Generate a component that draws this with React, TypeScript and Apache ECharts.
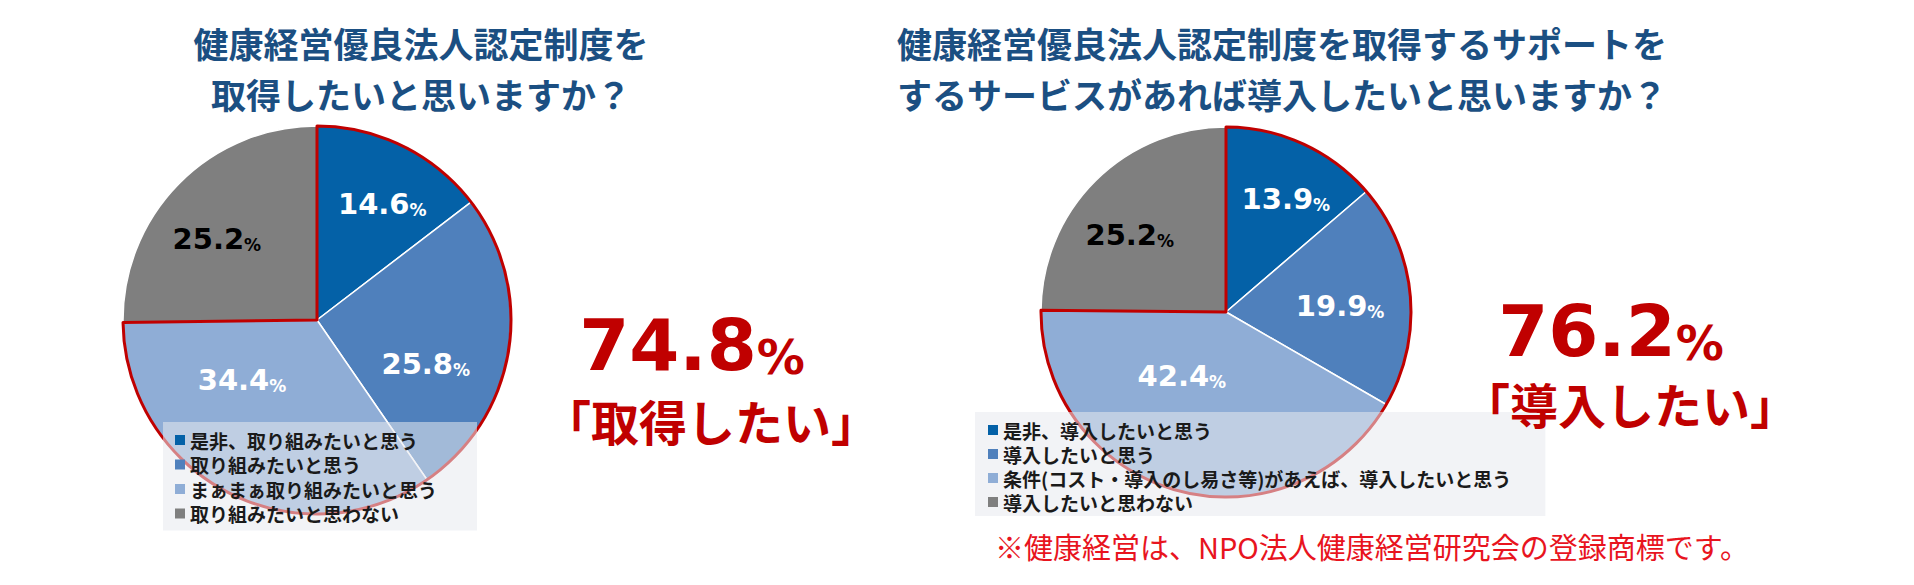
import React, { useEffect, useRef } from 'react';
import * as echarts from 'echarts';

// ---------- data ----------
const TITLE_1 = '健康経営優良法人認定制度を\n取得したいと思いますか？';
const TITLE_2 = '健康経営優良法人認定制度を取得するサポートを\nするサービスがあれば導入したいと思いますか？';

const CATEGORIES_1 = ['是非、取り組みたいと思う', '取り組みたいと思う', 'まぁまぁ取り組みたいと思う', '取り組みたいと思わない'];
const VALUES_1 = [14.6, 25.8, 34.4, 25.2];

const CATEGORIES_2 = ['是非、導入したいと思う', '導入したいと思う', '条件(コスト・導入のし易さ等)があえば、導入したいと思う', '導入したいと思わない'];
const VALUES_2 = [13.9, 19.9, 42.4, 25.2];

const CALLOUT_1 = '「取得したい」';
const CALLOUT_2 = '「導入したい」';
const FOOTNOTE = '※健康経営は、NPO法人健康経営研究会の登録商標です。';

// ---------- style ----------
const SLICE_COLORS = ['#0461a7', '#4f80bc', '#8fadd6', '#7f7f7f'];
const LABEL_DARK = [false, false, false, true];
const RED = '#c00000';
const TITLE_BLUE = '#1b4f82';
const CJK = '"Noto Sans CJK JP", "Noto Sans", sans-serif';
const NUM = '"DejaVu Sans", Verdana, sans-serif';
// label nudges relative to the library's default inside position
const SHIFT_1 = [[21, -26], [10, 28], [-29, -29], [-29, -11]];
const SHIFT_2 = [[20, -26], [19, 3], [-19, -28], [-29, -9]];

const sumWant = (vals: number[]) => Math.round((vals[0] + vals[1] + vals[2]) * 10) / 10;

function basePie(values: number[], names: string[], center: number[], radius: number, shifts: number[][]) {
  return {
    type: 'pie',
    center,
    radius,
    startAngle: 90,
    clockwise: true,
    avoidLabelOverlap: false,
    silent: true,
    itemStyle: { borderColor: '#ffffff', borderWidth: 1.5 },
    labelLine: { show: false },
    label: {
      show: true,
      position: 'inside',
      formatter: (p: any) =>
        LABEL_DARK[p.dataIndex] ? `{k|${p.value.toFixed(1)}}{kp|%}` : `{w|${p.value.toFixed(1)}}{wp|%}`,
      rich: {
        w: { fontSize: 29, lineHeight: 29, fontWeight: 'bold', fontFamily: NUM, color: '#ffffff', verticalAlign: 'bottom' },
        wp: { fontSize: 17, lineHeight: 17, fontWeight: 'bold', fontFamily: NUM, color: '#ffffff', verticalAlign: 'bottom' },
        k: { fontSize: 29, lineHeight: 29, fontWeight: 'bold', fontFamily: NUM, color: '#000000', verticalAlign: 'bottom' },
        kp: { fontSize: 17, lineHeight: 17, fontWeight: 'bold', fontFamily: NUM, color: '#000000', verticalAlign: 'bottom' },
      },
    },
    labelLayout: (params: any) => {
      const s = shifts[params.dataIndex] || [0, 0];
      return { dx: s[0], dy: s[1] };
    },
    data: values.map((v, i) => ({ name: names[i], value: v, itemStyle: { color: SLICE_COLORS[i] } })),
  };
}

function outlinePie(values: number[], center: number[], radius: number, tag: string) {
  return {
    type: 'pie',
    center,
    radius,
    startAngle: 90,
    clockwise: true,
    silent: true,
    label: { show: false },
    labelLine: { show: false },
    emphasis: { disabled: true },
    data: [
      {
        name: tag + '_want',
        value: sumWant(values),
        itemStyle: { color: 'rgba(0,0,0,0)', borderColor: RED, borderWidth: 3 },
      },
      {
        name: tag + '_rest',
        value: values[3],
        itemStyle: { color: 'rgba(0,0,0,0)', borderWidth: 0 },
      },
    ],
  };
}

function legend(names: string[], left: number, top: number, padding: number[], gap: number) {
  return {
    data: names,
    orient: 'vertical',
    left,
    top,
    padding,
    itemGap: gap,
    itemWidth: 10,
    itemHeight: 10,
    icon: 'rect',
    selectedMode: false,
    backgroundColor: 'rgba(232,234,238,0.55)',
    itemStyle: { borderWidth: 0 },
    textStyle: { fontSize: 19, lineHeight: 20, fontWeight: 'bold', color: '#1a1a1a', fontFamily: CJK },
  };
}

function bigNumber(value: number, left: number, top: number) {
  return {
    text: `{n|${value.toFixed(1)}}{p|%}`,
    left,
    top,
    textAlign: 'center',
    padding: 0,
    textStyle: {
      rich: {
        n: { fontSize: 72, lineHeight: 72, fontWeight: 'bold', fontFamily: NUM, color: RED, verticalAlign: 'bottom' },
        p: { fontSize: 48, lineHeight: 48, fontWeight: 'bold', fontFamily: NUM, color: RED, verticalAlign: 'bottom' },
      },
    },
  };
}

function callout(text: string, left: number, top: number) {
  return {
    text,
    left,
    top,
    textAlign: 'center',
    padding: 0,
    textStyle: { fontSize: 48, lineHeight: 48, fontWeight: 'bold', color: RED, fontFamily: CJK },
  };
}

export default function App() {
  const ref = useRef<HTMLDivElement>(null);

  useEffect(() => {
    if (!ref.current) return;
    const chart = echarts.init(ref.current, undefined, { renderer: 'svg' });
    const center1 = [317, 320];
    const center2 = [1226, 312];
    chart.setOption({
      animation: false,
      backgroundColor: '#ffffff',
      title: [
        {
          text: TITLE_1,
          left: 421,
          top: 17,
          textAlign: 'center',
          padding: 0,
          textStyle: { fontSize: 35, lineHeight: 51, fontWeight: 'bold', color: TITLE_BLUE, fontFamily: CJK },
        },
        {
          text: TITLE_2,
          left: 1282,
          top: 17,
          textAlign: 'center',
          padding: 0,
          textStyle: { fontSize: 35, lineHeight: 51, fontWeight: 'bold', color: TITLE_BLUE, fontFamily: CJK },
        },
        bigNumber(sumWant(VALUES_1), 692, 309),
        callout(CALLOUT_1, 711, 396),
        bigNumber(sumWant(VALUES_2), 1611, 295),
        callout(CALLOUT_2, 1630, 379),
        {
          text: FOOTNOTE,
          left: 1372,
          top: 531,
          textAlign: 'center',
          padding: 0,
          textStyle: { fontSize: 29, lineHeight: 29, fontWeight: 'normal', color: '#e8141e', fontFamily: CJK },
        },
      ],
      legend: [
        legend(CATEGORIES_1, 163, 422, [8, 40, 7, 12], 4.5),
        legend(CATEGORIES_2, 975, 412, [8, 34, 4, 13], 4),
      ],
      series: [
        basePie(VALUES_1, CATEGORIES_1, center1, 194, SHIFT_1),
        outlinePie(VALUES_1, center1, 194, 'p1'),
        basePie(VALUES_2, CATEGORIES_2, center2, 185, SHIFT_2),
        outlinePie(VALUES_2, center2, 185, 'p2'),
      ],
    });
    return () => chart.dispose();
  }, []);

  return <div ref={ref} style={{ position: 'fixed', left: 0, top: 0, width: 1914, height: 585 }} />;
}
